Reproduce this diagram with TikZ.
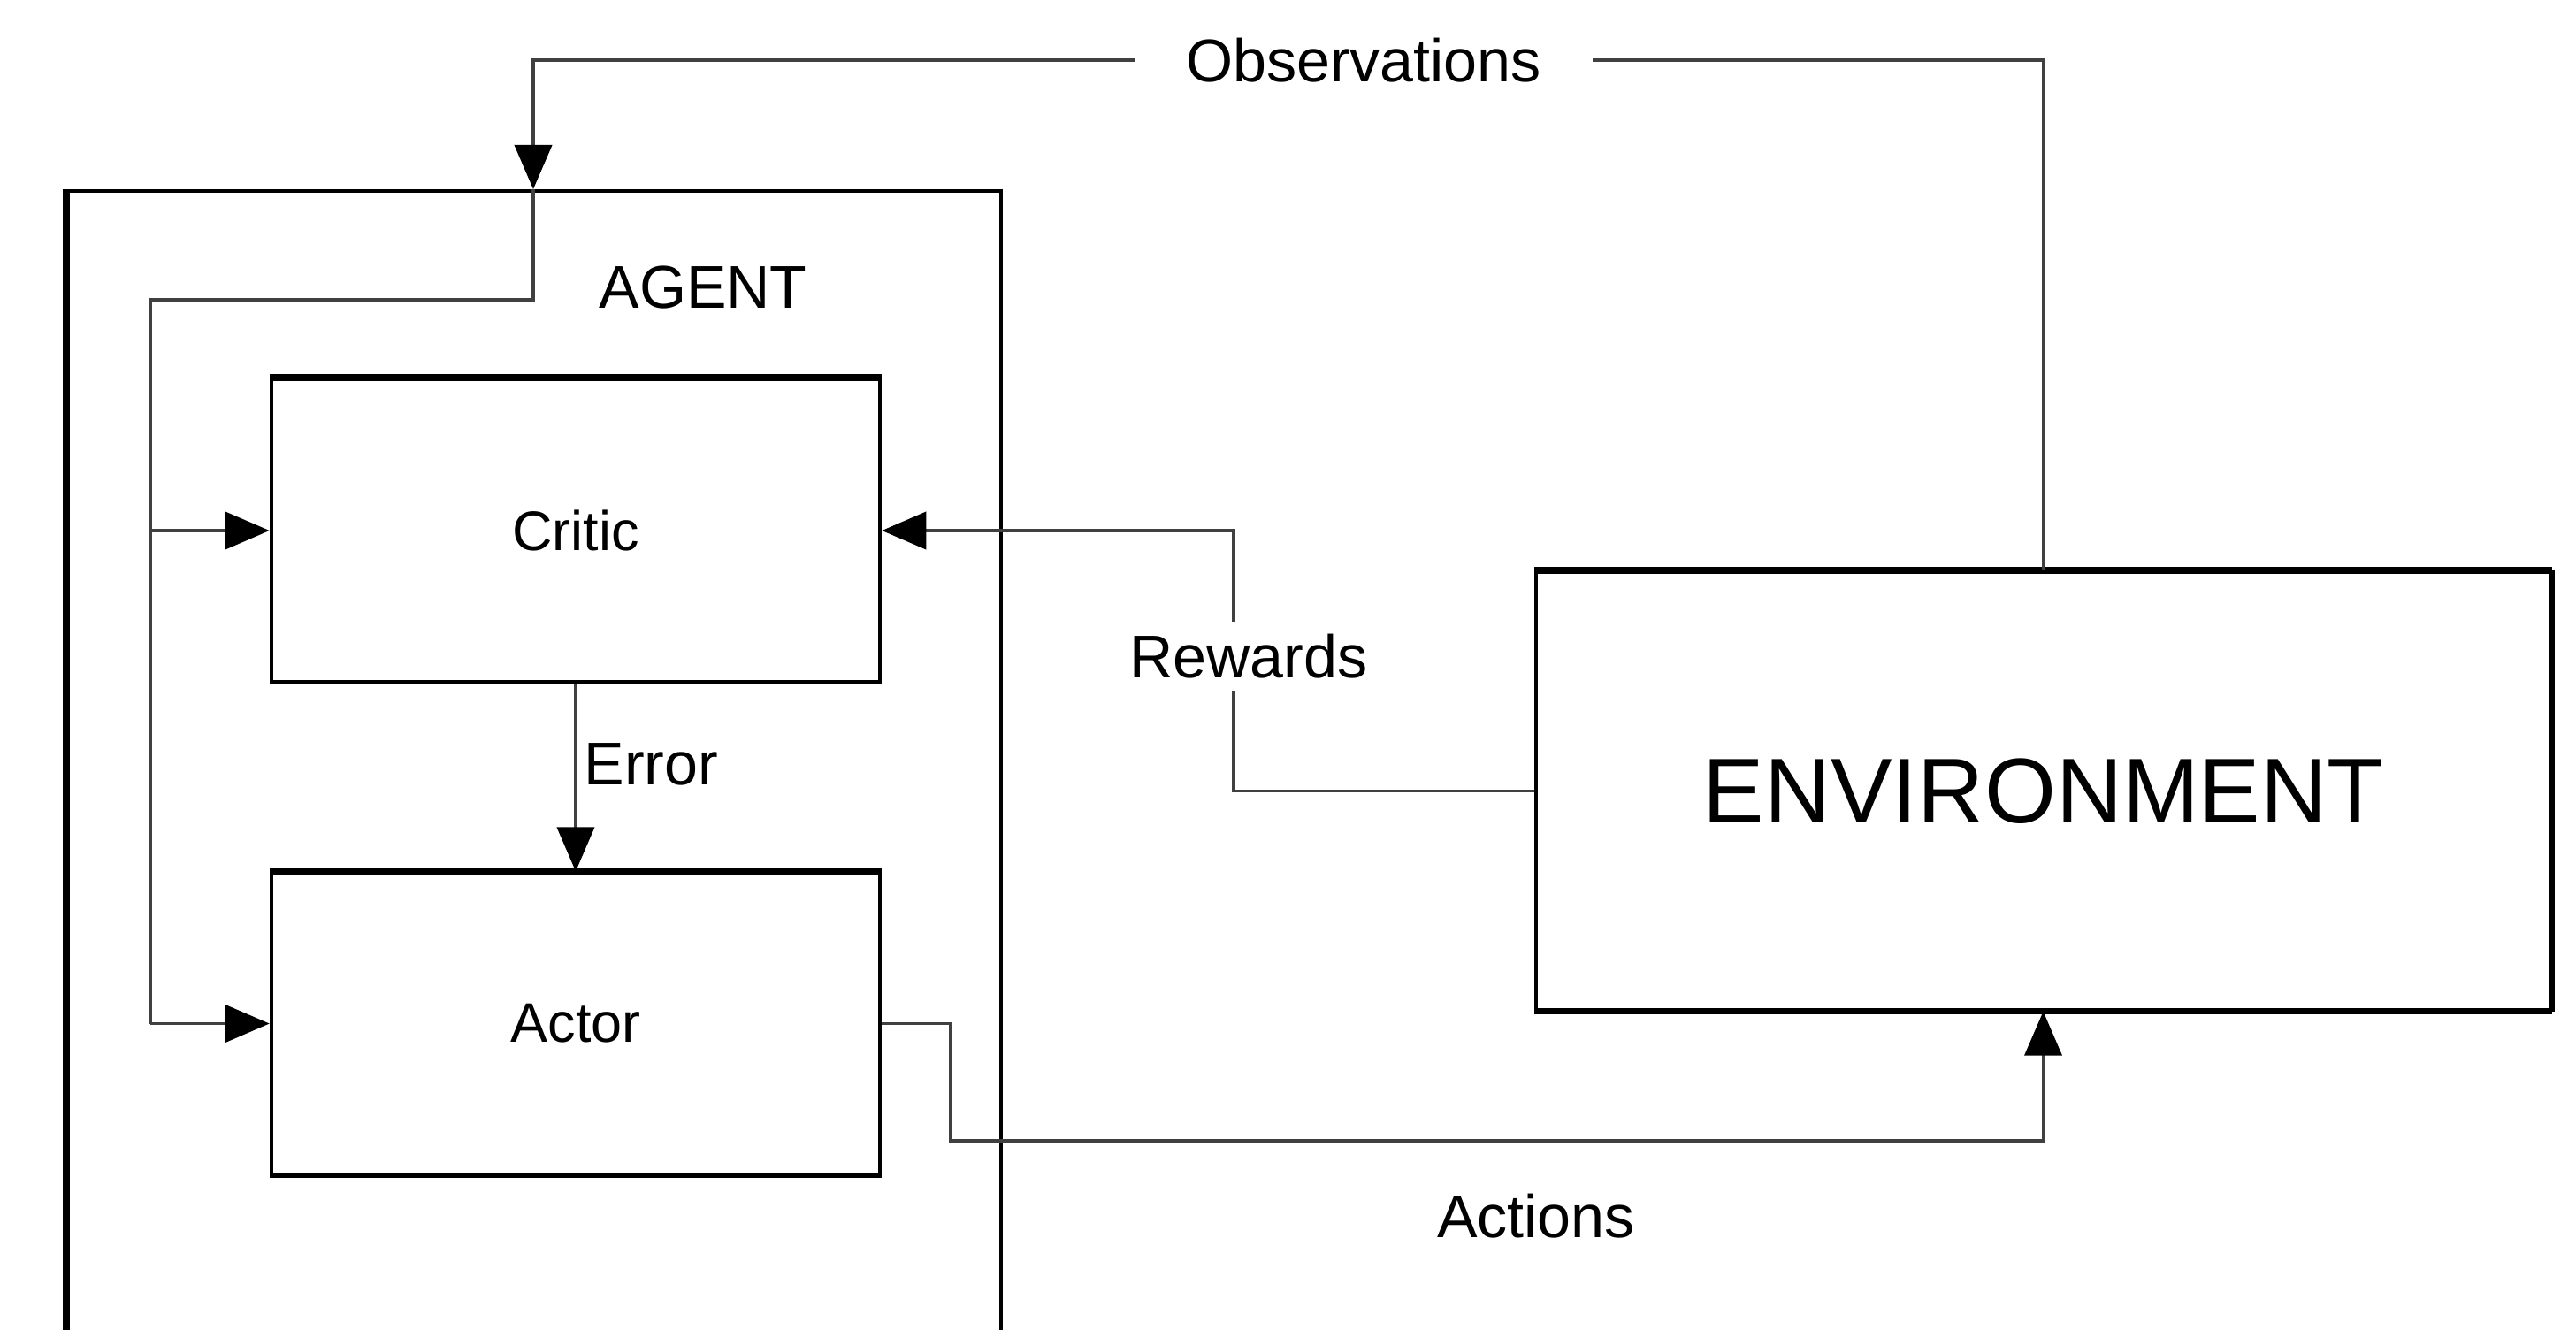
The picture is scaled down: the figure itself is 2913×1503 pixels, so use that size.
\documentclass[tikz,border=0pt]{standalone}
\usepackage{fontspec}
\setmainfont{Liberation Sans}
\usetikzlibrary{arrows.meta,calc}
\begin{document}
\begin{tikzpicture}[x=0.01cm,y=-0.01cm,
  box/.style={draw=black,line width=1.15pt,fill=white,inner sep=0pt},
  edge/.style={draw=black,line width=2.2pt},
  conn/.style={draw=black!75,line width=1.1pt},
  tip/.style={-{Triangle[length=0.5cm,width=0.42cm,fill=black,color=black]}},
  lbl/.style={font=\fontsize{19.4}{22}\selectfont,fill=white,inner sep=0pt}]
\useasboundingbox (0,0) rectangle (2913,1503);
\clip (0,0) rectangle (2913,1503);
% agent container
\node[box,minimum width=10.54cm,minimum height=14.5cm,anchor=north west] (agent) at (75,214) {};
\draw[edge,line width=2pt] (agent.north west) -- (agent.south west);
\node[font=\fontsize{19.4}{22}\selectfont] (agentlbl) at (795,325) {AGENT};
% inner boxes
\node[box,minimum width=6.88cm,minimum height=3.42cm,font=\fontsize{17.9}{21}\selectfont] (critic) at (651,600) {Critic};
\node[box,minimum width=6.88cm,minimum height=3.40cm,font=\fontsize{17.9}{21}\selectfont] (actor) at (651,1157.5) {Actor};
\node[box,minimum width=11.46cm,minimum height=4.94cm,font=\fontsize{29.6}{34}\selectfont] (env) at (2310.5,894.5) {ENVIRONMENT};
\draw[edge] (critic.north west) -- (critic.north east);
\draw[edge] (actor.north west) -- (actor.north east);
\draw[edge,line width=1.6pt] (actor.south west) -- (actor.south east);
\draw[edge] (env.north west) -- (env.north east);
\draw[edge,line width=1.8pt] (env.south west) -- (env.south east);
\draw[edge,line width=1.8pt] (env.north east) -- (env.south east);
% coordinates
\coordinate (otop) at (2310.5,68);
\coordinate (oleft) at (603,68);
\coordinate (oin) at (603,214);
\coordinate (obend) at (603,339);
\coordinate (bus) at (170,339);
% observations
\draw[conn,tip] (env.north) -- (otop) -- (oleft) -- (oin);
\node[lbl,inner xsep=0.58cm] (obs) at (1542,68) {Observations};
\draw[conn] (oin) -- (obend) -- (bus) -- (bus |- actor.west);
\draw[conn,tip] (bus |- actor.west) -- (actor.west);
\draw[conn,tip] (bus |- critic.west) -- (critic.west);
% rewards
\coordinate (rb) at (1395,894.5);
\draw[conn,tip] (env.west) -- (rb) -- (rb |- critic.east) -- (critic.east);
\node[lbl,inner ysep=4pt] (rew) at (1412,742) {Rewards};
% error
\draw[conn,tip] (critic.south) -- (actor.north);
\node[lbl,fill=none,anchor=west] (err) at (660,864) {Error};
% actions
\coordinate (a1) at (1075,1157.5);
\coordinate (a2) at (1075,1290);
\draw[conn,tip] (actor.east) -- (a1) -- (a2) -- (a2 -| env.south) -- (env.south);
\node[lbl,fill=none] (act) at (1737,1375) {Actions};
\end{tikzpicture}
\end{document}
